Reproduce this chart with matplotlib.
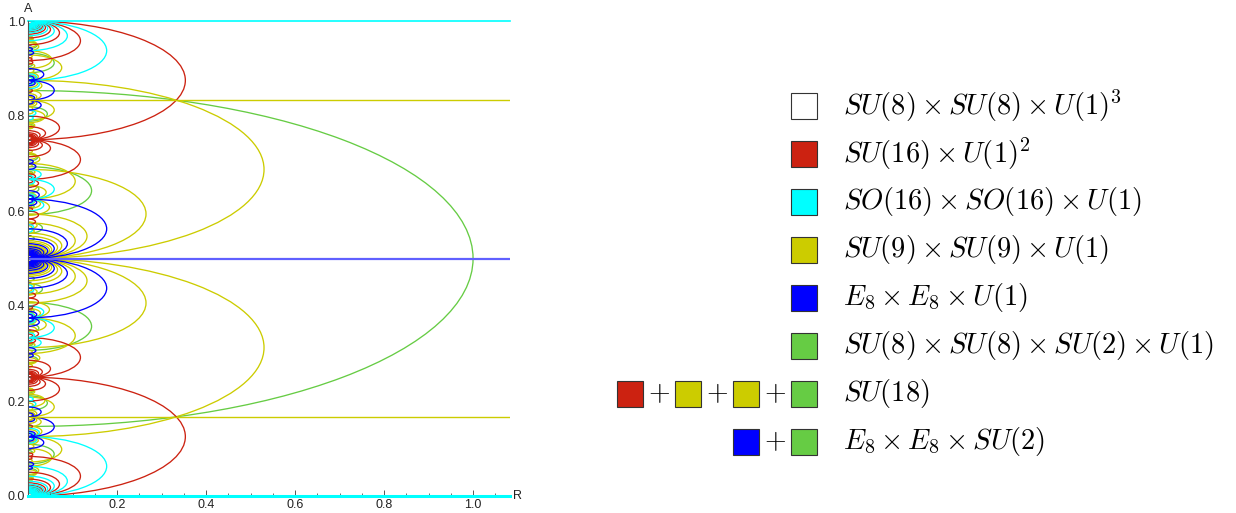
import math
import matplotlib
matplotlib.use('Agg')
import matplotlib.pyplot as plt
from matplotlib.patches import Arc, Rectangle
from matplotlib.ticker import MultipleLocator, FixedLocator

plt.rcParams['mathtext.fontset'] = 'cm'
plt.rcParams['font.family'] = ['Liberation Sans', 'DejaVu Sans']

RED = '#cc2211'; YEL = '#cccc00'; CYA = '#00ffff'; BLU = '#0000ff'; GRN = '#66cc44'

# enhancement curves, lower half of the strip (A <= 0.5); upper half is the mirror A -> 1-A
# each entry  w: [p, ...]  is one half-ellipse touching R=0, centred at A = p/(16w),
# with A half-height k/w (k depends on the group) and R extent sqrt(8) times that
blue_arcs = {1: [7], 2: [15], 3: [7, 23], 4: [31], 5: [9, 39], 6: [17, 47], 7: [41, 55],
             8: [63], 9: [55, 71], 10: [49, 79], 11: [23, 87], 12: [31, 95], 13: [25, 103],
             14: [15, 111], 15: [41, 71, 89, 119], 16: [127], 17: [103, 135], 18: [17, 143],
             19: [39, 151]}
cyan_arcs = {2: [2], 4: [2], 6: [2, 34], 8: [2], 10: [2, 62], 12: [2, 62], 14: [2, 30],
             16: [2], 18: [2, 34], 20: [2, 62], 22: [2, 130], 24: [2, 130], 26: [2, 158],
             28: [2, 194], 30: [2, 62, 98, 158], 32: [2], 34: [2, 66], 36: [2, 254],
             38: [2, 226]}
red_arcs = {1: [2], 3: [2, 14], 5: [2, 18], 7: [2, 30], 9: [2, 34], 11: [2, 46], 13: [2, 50],
            15: [2, 62, 82, 98], 17: [2, 66], 19: [2, 78], 21: [2, 82, 110, 142], 23: [2, 94],
            25: [2, 98], 27: [2, 110], 29: [2, 114], 31: [2, 126], 33: [2, 46, 130, 178],
            35: [2, 82, 142, 222], 37: [2, 146], 39: [2, 50, 158, 206]}
green_arcs = {1: [8], 7: [40], 17: [24], 23: [72], 31: [216], 41: [232], 47: [216], 49: [40],
              71: [520], 73: [456], 79: [280], 89: [456], 97: [56], 103: [152]}
yellow_arcs = {1: [5], 2: [13], 4: [29], 5: [27, 37], 7: [11, 53], 8: [61], 9: [27],
               10: [13, 77], 11: [69, 85], 13: [75, 101], 14: [45, 109], 16: [125],
               17: [37, 133], 18: [45], 19: [117, 149], 20: [93, 157], 22: [19, 173],
               23: [43, 181], 25: [53, 197], 26: [179, 205], 27: [21, 69, 75, 123],
               28: [157, 221], 29: [171, 229], 31: [59, 245], 32: [253], 34: [173, 269],
               35: [53, 123, 213, 277], 36: [99], 37: [219, 293], 38: [269, 301], 40: [67, 317],
               41: [85, 325], 43: [261, 341], 44: [157, 349], 45: [27, 117], 46: [141, 365],
               47: [91, 373], 49: [101, 389], 50: [147, 397], 52: [29, 413], 53: [315, 421],
               54: [141, 147, 237, 339], 55: [107, 267, 283, 437], 56: [67, 445], 58: [403, 461]}
# A half-height numerator per group
half_height = {'blue': 1 / 16, 'cyan': 1 / 8, 'red': 1 / 8, 'yellow': 3 / 16, 'green': math.sqrt(2) / 4}

# horizontal enhancement lines (all R)
hlines_A = [0.0, 1 / 6, 0.5, 5 / 6, 1.0]
hlines_col = [CYA, YEL, '#6060ff', YEL, CYA]

legend_labels = [r'$SU(8)\times SU(8)\times U(1)^3$', r'$SU(16)\times U(1)^2$',
                 r'$SO(16)\times SO(16)\times U(1)$', r'$SU(9)\times SU(9)\times U(1)$',
                 r'$E_8\times E_8\times U(1)$', r'$SU(8)\times SU(8)\times SU(2)\times U(1)$',
                 r'$SU(18)$', r'$E_8\times E_8\times SU(2)$']
legend_boxes = [[None], [RED], [CYA], [YEL], [BLU], [GRN], [RED, YEL, YEL, GRN], [BLU, GRN]]

fig = plt.figure(figsize=(12.36, 5.13), dpi=100)
ax = fig.add_axes([28 / 1236, 17 / 513, 482 / 1236, 475 / 513])


def draw_arcs(table, k, col):
    for w, ps in table.items():
        h = k / w
        for p in ps:
            c = p / (16 * w)
            cs = [c] if p == 8 * w else [c, 1 - c]
            for cc in cs:
                ax.add_patch(Arc((0, cc), 2 * math.sqrt(8) * h, 2 * h, theta1=-90, theta2=90,
                                 color=col, lw=0.95))


draw_arcs(green_arcs, half_height['green'], GRN)
draw_arcs(yellow_arcs, half_height['yellow'], YEL)
draw_arcs(red_arcs, half_height['red'], RED)
draw_arcs(cyan_arcs, half_height['cyan'], CYA)
draw_arcs(blue_arcs, half_height['blue'], BLU)

for a, col in zip(hlines_A, hlines_col):
    lw = {0.0: 2.2, 0.5: 1.6, 1.0: 1.2}.get(a, 1.0)
    ax.axhline(a, color=col, lw=lw, clip_on=(0 < a < 1), zorder=5 if a == 0 else 2)

ax.set_xlim(0, 1.083)
ax.set_ylim(0, 1)
for s in ('top', 'right'):
    ax.spines[s].set_visible(False)
ax.spines['left'].set_color('#555555')
ax.spines['bottom'].set_color('#555555')
ax.spines['left'].set_linewidth(0.8)
ax.xaxis.set_major_locator(FixedLocator([0.2, 0.4, 0.6, 0.8, 1.0]))
ax.xaxis.set_minor_locator(MultipleLocator(0.05))
ax.yaxis.set_major_locator(FixedLocator([0.0, 0.2, 0.4, 0.6, 0.8, 1.0]))
ax.yaxis.set_minor_locator(MultipleLocator(0.05))
ax.set_xticklabels(['0.2', '0.4', '0.6', '0.8', '1.0'])
ax.set_yticklabels(['0.0', '0.2', '0.4', '0.6', '0.8', '1.0'])
ax.tick_params(which='both', direction='in', color='#555555', labelsize=9, labelcolor='#222222', pad=2)
ax.tick_params(which='major', length=4, width=0.7)
ax.tick_params(which='minor', length=2.5, width=0.6)
fig.text(28 / 1236, 1 - 9 / 513, 'A', ha='center', va='center', fontsize=9, color='#222222')
fig.text(518 / 1236, 1 - 496 / 513, 'R', ha='center', va='center', fontsize=9, color='#222222')

# legend, drawn in pixel coordinates
ov = fig.add_axes([0, 0, 1, 1])
ov.set_xlim(0, 1236)
ov.set_ylim(513, 0)
ov.axis('off')
for row, (label, boxes) in enumerate(zip(legend_labels, legend_boxes)):
    yc = 106 + 48 * row
    for i, col in enumerate(reversed(boxes)):
        x0 = 791 - 58 * i
        ov.add_patch(Rectangle((x0, yc - 13), 26, 26, facecolor=col or 'white',
                               edgecolor='#333333', lw=0.8))
        if i > 0:
            ov.text(x0 + 42, yc, r'$+$', ha='center', va='center', fontsize=20)
    ov.text(843, yc, label, ha='left', va='center', fontsize=20.5)

fig.savefig('out.png')
